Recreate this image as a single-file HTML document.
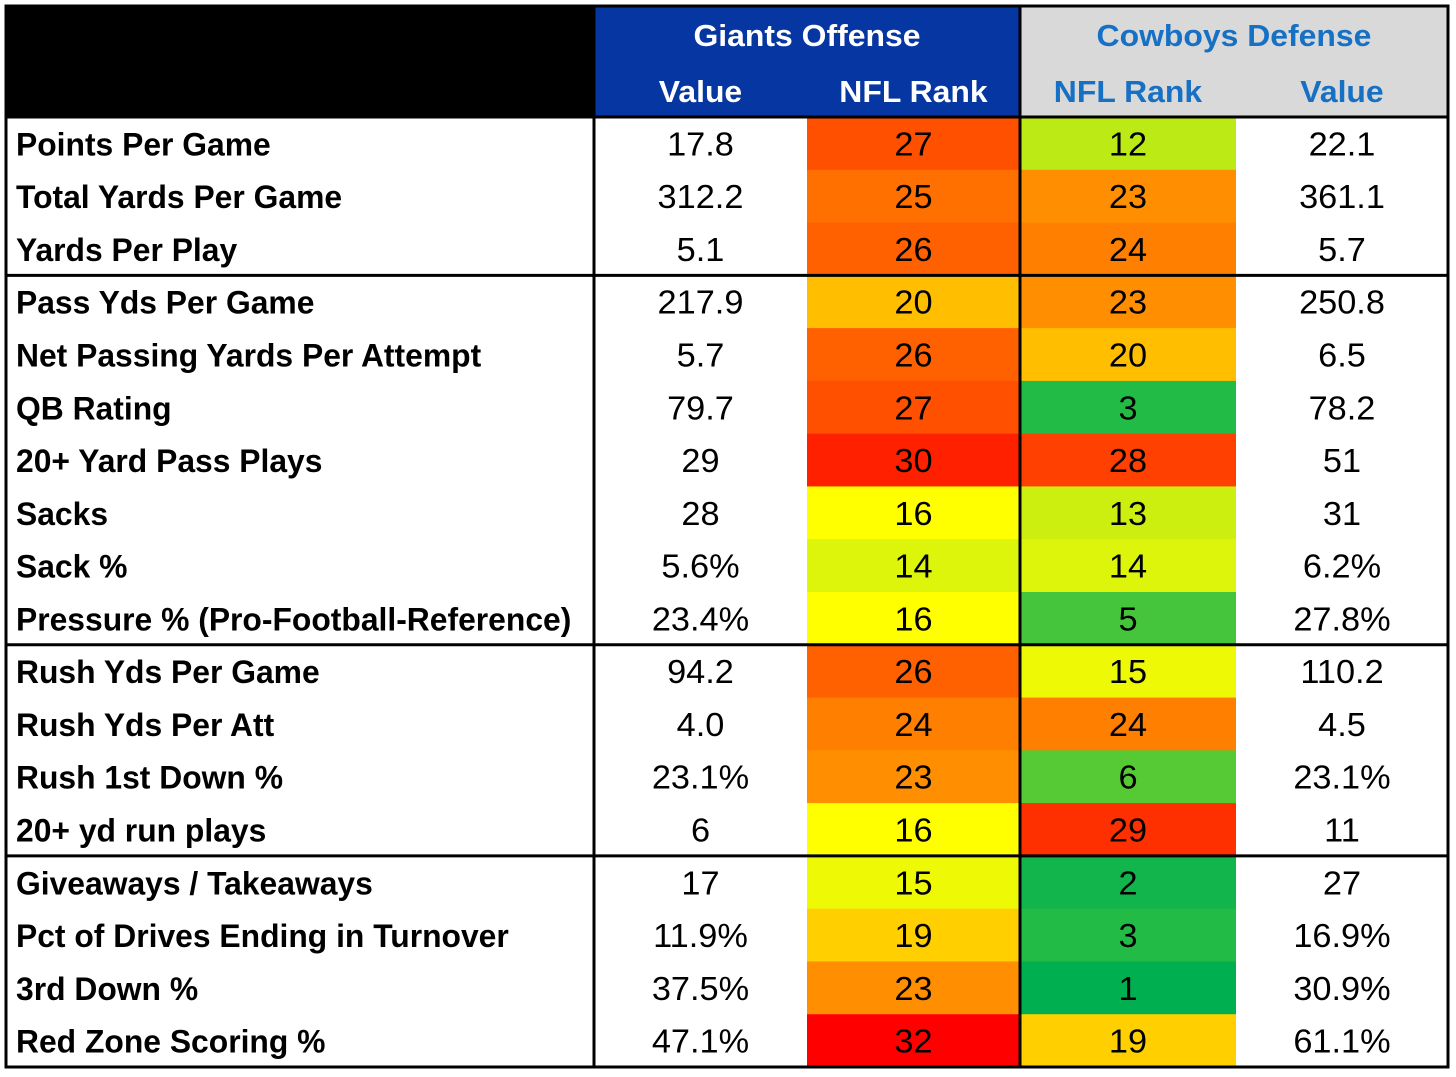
<!DOCTYPE html>
<html><head><meta charset="utf-8"><style>
html,body{margin:0;padding:0;background:#fff;width:1456px;height:1077px;overflow:hidden}
svg{display:block}
text{font-family:"Liberation Sans",sans-serif}
</style></head><body>
<svg id="tbl" width="1456" height="1077" xmlns="http://www.w3.org/2000/svg"></svg>
<script>
const labels=["Points Per Game","Total Yards Per Game","Yards Per Play","Pass Yds Per Game","Net Passing Yards Per Attempt","QB Rating","20+ Yard Pass Plays","Sacks","Sack %","Pressure % (Pro-Football-Reference)","Rush Yds Per Game","Rush Yds Per Att","Rush 1st Down %","20+ yd run plays","Giveaways / Takeaways","Pct of Drives Ending in Turnover","3rd Down %","Red Zone Scoring %"];
const offValues=["17.8","312.2","5.1","217.9","5.7","79.7","29","28","5.6%","23.4%","94.2","4.0","23.1%","6","17","11.9%","37.5%","47.1%"];
const offRanks=[27,25,26,20,26,27,30,16,14,16,26,24,23,16,15,19,23,32];
const defRanks=[12,23,24,23,20,3,28,13,14,5,15,24,6,29,2,3,1,19];
const defValues=["22.1","361.1","5.7","250.8","6.5","78.2","51","31","6.2%","27.8%","110.2","4.5","23.1%","11","27","16.9%","30.9%","61.1%"];
const groupEnds=[3,10,14];

const NS="http://www.w3.org/2000/svg";
const svg=document.getElementById('tbl');
const X0=6,X1=594,X2=807,X3=1020,X4=1236,X5=1448;
const Y0=6,YH=117,Y1=1067;
const rowH=(Y1-YH)/labels.length;
function rowY(i){return YH+i*rowH;}
function rankColor(r){
  let a,b,t;
  if(r<=16){a=[0,176,80];b=[255,255,0];t=(r-1)/15;}
  else{a=[255,255,0];b=[255,0,0];t=(r-16)/16;}
  const c=a.map((v,k)=>Math.round(v+(b[k]-v)*t));
  return `rgb(${c[0]},${c[1]},${c[2]})`;
}
function el(tag,attrs,txt){const e=document.createElementNS(NS,tag);for(const k in attrs)e.setAttribute(k,attrs[k]);if(txt!==undefined)e.textContent=txt;svg.appendChild(e);return e;}

let e=el('rect',{x:X0,y:Y0,width:X1-X0,height:YH-Y0,fill:'#000'});


e=el('rect',{x:X1,y:Y0,width:X3-X1,height:YH-Y0,fill:'#0536A2'});


e=el('rect',{x:X3,y:Y0,width:X5-X3,height:YH-Y0,fill:'#D9D9D9'});



function htext(x,y,t,fill,name){
  const n=el('text',{x:x,y:y,'text-anchor':'middle','font-size':31,'font-weight':'bold',fill:fill,transform:`translate(${x},0) scale(1.03,1) translate(${-x},0)`},t);
  
  
}
htext((X1+X3)/2,46,"Giants Offense","#fff","giants-offense-title");
htext((X1+X2)/2,102,"Value","#fff","giants-value-header");
htext((X2+X3)/2,102,"NFL Rank","#fff","giants-rank-header");
htext((X3+X5)/2,46,"Cowboys Defense","#1670C4","cowboys-defense-title");
htext((X3+X4)/2,102,"NFL Rank","#1670C4","cowboys-rank-header");
htext((X4+X5)/2,102,"Value","#1670C4","cowboys-value-header");

labels.forEach((lab,i)=>{
  const y=rowY(i), cy=y+rowH/2+12;
  let r=el('rect',{x:X2,y:y,width:X3-X2,height:rowH+0.5,fill:rankColor(offRanks[i])});
  
  
  r=el('rect',{x:X3,y:y,width:X4-X3,height:rowH+0.5,fill:rankColor(defRanks[i])});
  
  
  let t=el('text',{x:16,y:cy,'font-size':32,'font-weight':'bold',fill:'#000',transform:`translate(16,0) scale(0.995,1) translate(-16,0)`},lab);
  
  
  const cells=[[ (X1+X2)/2,offValues[i],'offense-value'],[(X2+X3)/2,offRanks[i],'offense-rank'],[(X3+X4)/2,defRanks[i],'defense-rank'],[(X4+X5)/2,defValues[i],'defense-value']];
  cells.forEach(c=>{
    const tt=el('text',{x:c[0],y:cy,'text-anchor':'middle','font-size':33,fill:'#000',transform:`translate(${c[0]},0) scale(1.04,1) translate(${-c[0]},0)`},String(c[1]));
    
    
  });
});

function line(x1,y1,x2,y2,name){const l=el('line',{x1,y1,x2,y2,stroke:'#000','stroke-width':3});}
line(X0,YH,X5,YH,'header-divider');
groupEnds.forEach(g=>line(X0,rowY(g),X5,rowY(g),'group-divider'));
line(X1,Y0,X1,Y1,'column-divider');
line(X3,Y0,X3,Y1,'column-divider');
const fr=el('rect',{x:X0,y:Y0,width:X5-X0,height:Y1-Y0,fill:'none',stroke:'#000','stroke-width':3});


</script>
</body></html>
